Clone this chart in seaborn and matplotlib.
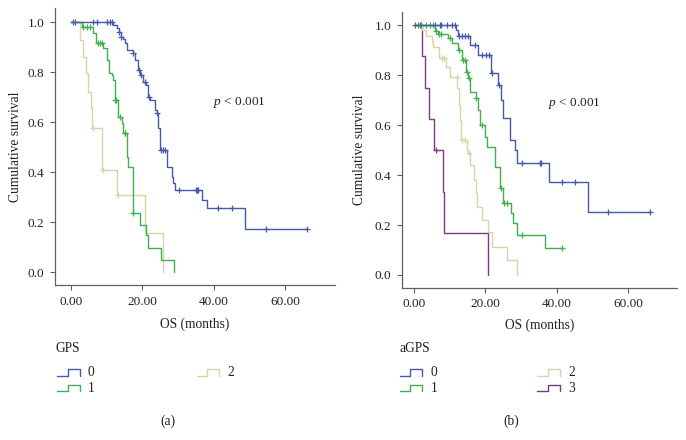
import matplotlib
matplotlib.use("Agg")
import matplotlib.pyplot as plt
from matplotlib.lines import Line2D
import numpy as np
import pandas as pd
import seaborn as sns

sns.set_style("ticks")
plt.rcParams["font.family"] = ["Liberation Serif", "DejaVu Serif"]
plt.rcParams["mathtext.fontset"] = "custom"
plt.rcParams["mathtext.it"] = "Liberation Serif:italic"
plt.rcParams["mathtext.rm"] = "Liberation Serif"

# ---- data: step times (months), survival after step, censor times
# GPS panel
gps0_t = [0, 11.9, 12.9, 13.5, 14.0, 14.6, 15.2, 15.7, 17.3, 18.0, 18.9, 19.4, 20.3, 21.0,
          21.7, 22.2, 23.6, 24.0, 24.5, 25.0, 26.9, 28.3, 28.7, 29.2, 36.6, 38.0, 48.7]
gps0_s = [1.0, 0.988, 0.975, 0.961, 0.941, 0.931, 0.915, 0.888, 0.877, 0.848, 0.808, 0.788, 0.761, 0.748,
          0.701, 0.688, 0.648, 0.635, 0.575, 0.488, 0.421, 0.381, 0.355, 0.328, 0.288, 0.255, 0.171]
gps0_c = [0.7, 1.2, 6.3, 7.3, 10.1, 11.0, 11.5, 13.6, 14.1, 17.4, 19.0, 19.6, 20.8, 21.8,
          24.2, 25.2, 25.9, 26.4, 30.3, 35.1, 35.4, 35.7, 41.3, 45.0, 54.5, 66.0]

gps1_t = [0, 3.1, 6.3, 7.1, 9.1, 10.1, 10.8, 11.5, 11.9, 12.4, 13.3, 14.3, 14.7, 15.7, 16.1,
          17.3, 19.4, 21.1, 21.7, 25.3, 29.0]
gps1_s = [1.0, 0.981, 0.955, 0.915, 0.895, 0.848, 0.795, 0.788, 0.768, 0.688, 0.621, 0.595, 0.555,
          0.461, 0.421, 0.236, 0.188, 0.148, 0.095, 0.048, 0.0]
gps1_c = [3.3, 4.5, 5.5, 7.5, 8.2, 8.8, 12.5, 12.6, 13.8, 15.1, 15.3, 17.4]

gps2_t = [0, 2.6, 3.3, 4.3, 4.9, 5.6, 6.0, 8.7, 12.9, 20.8, 25.9]
gps2_s = [1.0, 0.928, 0.861, 0.795, 0.721, 0.661, 0.575, 0.408, 0.308, 0.155, 0.0]
gps2_c = [6.1, 8.9, 13.1]

# aGPS panel
agps0_t = [0, 11.8, 12.4, 15.7, 18.0, 21.5, 23.6, 24.3, 25.0, 26.9, 28.3, 28.9, 37.9, 48.8]
agps0_s = [1.0, 0.98, 0.955, 0.92, 0.88, 0.807, 0.76, 0.70, 0.627, 0.54, 0.50, 0.447, 0.373, 0.251]
agps0_c = [0.3, 1.6, 5.9, 7.3, 7.7, 9.2, 10.6, 11.5, 12.7, 13.4, 14.3, 15.2, 17.1, 19.0,
           20.2, 21.1, 22.0, 23.7, 30.2, 35.2, 35.5, 41.4, 45.1, 54.4, 66.1]

agps1_t = [0, 5.9, 6.8, 9.6, 10.6, 12.4, 13.4, 14.6, 15.2, 15.7, 17.4, 18.0, 18.5, 19.9, 20.5,
           22.7, 24.1, 25.0, 27.1, 27.8, 28.9, 36.7]
agps1_s = [1.0, 0.977, 0.965, 0.947, 0.927, 0.90, 0.86, 0.813, 0.787, 0.733, 0.707, 0.66, 0.60, 0.553,
           0.513, 0.433, 0.347, 0.287, 0.247, 0.207, 0.16, 0.107]
agps1_c = [1.2, 2.1, 3.5, 4.5, 5.4, 6.3, 7.1, 7.7, 10.1, 12.7, 13.8, 14.3, 14.9, 15.4, 17.5,
           19.0, 24.3, 25.2, 26.0, 30.4, 41.4]

agps2_t = [0, 2.3, 3.5, 5.0, 5.4, 7.1, 9.0, 10.1, 12.1, 12.5, 12.8, 13.2, 14.8, 15.2, 15.7,
           16.8, 17.4, 17.7, 19.2, 20.8, 21.8, 26.0, 28.8]
agps2_s = [1.0, 0.98, 0.955, 0.933, 0.913, 0.867, 0.833, 0.793, 0.747, 0.68, 0.62, 0.54, 0.50,
           0.487, 0.44, 0.38, 0.327, 0.273, 0.22, 0.173, 0.113, 0.06, 0.0]
agps2_c = [2.1, 7.8, 8.5, 12.0, 13.4, 14.3, 15.5]

agps3_t = [0, 2.4, 3.1, 4.3, 5.6, 8.1, 8.3, 20.8]
agps3_s = [1.0, 0.875, 0.75, 0.625, 0.5, 0.333, 0.167, 0.0]
agps3_c = [6.2]

colors = {"0": "#4659a8", "1": "#3fb04d", "2": "#dad5a6", "3": "#7f3a84"}


def km_frames(groups):
    lines, marks = [], []
    for name, t, s, c in groups:
        t = list(t)
        s = list(s)
        if s[-1] > 0 and max(c) > t[-1]:
            t.append(max(c))
            s.append(s[-1])
        lines.append(pd.DataFrame({"t": t, "s": s, "grp": name}))
        idx = np.searchsorted(t, c, side="right") - 1
        marks.append(pd.DataFrame({"t": c, "s": np.array(s)[idx], "grp": name}))
    return pd.concat(lines, ignore_index=True), pd.concat(marks, ignore_index=True)


panels = [
    [("0", gps0_t, gps0_s, gps0_c), ("1", gps1_t, gps1_s, gps1_c), ("2", gps2_t, gps2_s, gps2_c)],
    [("0", agps0_t, agps0_s, agps0_c), ("1", agps1_t, agps1_s, agps1_c),
     ("2", agps2_t, agps2_s, agps2_c), ("3", agps3_t, agps3_s, agps3_c)],
]

fig = plt.figure(figsize=(6.86, 4.40), dpi=100)
ax1 = fig.add_axes([0.0802, 0.352, 0.408, 0.6295])
ax2 = fig.add_axes([0.5856, 0.3455, 0.4009, 0.627])
axes = [ax1, ax2]
xlims = [(-4.4, 73.9), (-3.4, 73.6)]
ylims = [(-0.052, 1.056), (-0.052, 1.052)]
ptext = [(39.8, 0.68), (37.5, 0.688)]
ylab_x = [-0.118, -0.13]
xlab_y = [-0.116, -0.109]
axis_col = "#606060"
txt_col = "#222222"

for ax, groups, xl, yl, pt, lx, ly in zip(axes, panels, xlims, ylims, ptext, ylab_x, xlab_y):
    lines, marks = km_frames(groups)
    # draw the later groups first so blue stays on top
    for name in sorted(lines["grp"].unique(), reverse=True):
        sns.lineplot(data=lines[lines["grp"] == name], x="t", y="s", color=colors[name],
                     drawstyle="steps-post", estimator=None, sort=False, lw=1.0, ax=ax,
                     legend=False)
        sns.scatterplot(data=marks[marks["grp"] == name], x="t", y="s", marker="+",
                        color=colors[name], s=22, linewidth=0.9, ax=ax, legend=False)
    ax.set_xlim(*xl)
    ax.set_ylim(*yl)
    ax.set_xticks([0, 20, 40, 60])
    ax.set_xticklabels(["0.00", "20.00", "40.00", "60.00"])
    ax.set_yticks([0, 0.2, 0.4, 0.6, 0.8, 1.0])
    ax.set_yticklabels(["0.0", "0.2", "0.4", "0.6", "0.8", "1.0"])
    ax.tick_params(labelsize=9.5, length=3.5, width=0.8, color=axis_col, labelcolor=txt_col, pad=4)
    for side in ["top", "right"]:
        ax.spines[side].set_visible(False)
    for side in ["left", "bottom"]:
        ax.spines[side].set_color(axis_col)
        ax.spines[side].set_linewidth(0.9)
    ax.set_xlabel("OS (months)", fontsize=9.75, color=txt_col)
    ax.set_ylabel("Cumulative survival", fontsize=9.75, color=txt_col)
    ax.xaxis.set_label_coords(0.5, ly)
    ax.yaxis.set_label_coords(lx, 0.5)
    ax.text(pt[0], pt[1], "$p$ < 0.001", fontsize=9.5, ha="left", va="center", color=txt_col)

# ---- legends below each panel
W, H = 686.0, 440.0


def step_icon(x0, yb, col):
    xs = np.array([x0, x0 + 10.5, x0 + 10.5, x0 + 22.5, x0 + 22.5])
    ys = np.array([yb, yb, yb - 6.3, yb - 6.3, yb])
    fig.add_artist(Line2D(xs / W, 1 - ys / H, color=col, lw=1.0, transform=fig.transFigure))


legend_items = [
    ("GPS", (56, 348), [("0", 57, 375.7), ("1", 57, 391), ("2", 196.5, 375.7)]),
    ("aGPS", (399, 348), [("0", 399.6, 375.7), ("1", 399.6, 391),
                          ("2", 537, 375.7), ("3", 537, 391)]),
]
for title, (tx, ty), entries in legend_items:
    fig.text(tx / W, 1 - ty / H, title, fontsize=9.75, ha="left", va="center", color=txt_col)
    for name, ix, iy in entries:
        step_icon(ix, iy, colors[name])
        fig.text((ix + 31) / W, 1 - (iy - 3) / H, name, fontsize=9.75, ha="left", va="center",
                 color=txt_col)

fig.text(168 / W, 1 - 421 / H, "(a)", fontsize=9.75, ha="center", va="center", color=txt_col)
fig.text(511 / W, 1 - 421 / H, "(b)", fontsize=9.75, ha="center", va="center", color=txt_col)

fig.savefig("out.png", dpi=100)
